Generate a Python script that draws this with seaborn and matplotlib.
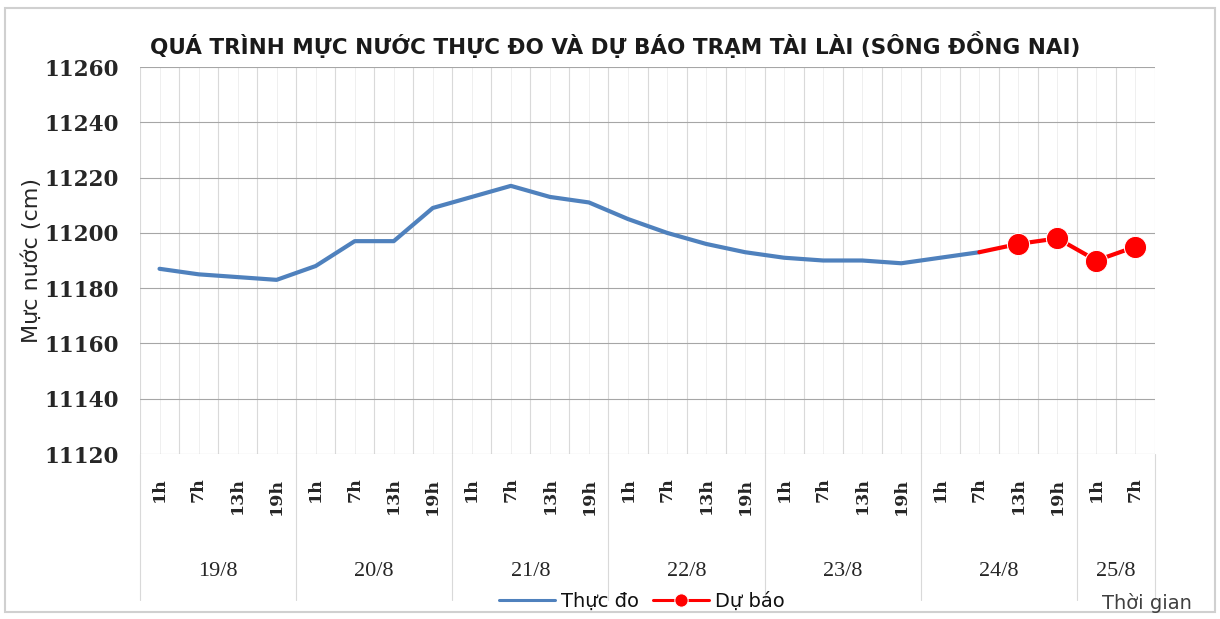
import matplotlib
matplotlib.use("Agg")
import matplotlib.pyplot as plt
import matplotlib.transforms as mtransforms
from matplotlib.patches import Rectangle
import seaborn as sns
import pandas as pd

# Data
days = ["19/8", "20/8", "21/8", "22/8", "23/8", "24/8", "25/8"]
hours_per_day = [4, 4, 4, 4, 4, 4, 2]
hour_labels = ["1h", "7h", "13h", "19h"] * 6 + ["1h", "7h"]
observed = [11187, 11185, 11184, 11183,
            11188, 11197, 11197, 11209,
            11213, 11217, 11213, 11211,
            11205, 11200, 11196, 11193,
            11191, 11190, 11190, 11189,
            11191, 11193]
forecast_start = 21
forecast = [11193, 11196, 11198, 11190, 11195]

W, H = 1220, 619


def main():
    sns.set_theme(style="white")
    plt.rcParams["font.family"] = ["DejaVu Sans"]

    fig = plt.figure(figsize=(W / 100, H / 100), dpi=100)
    ax = fig.add_axes([140 / W, 1 - 454 / H, (1155 - 140) / W, (454 - 67) / H])

    df_obs = pd.DataFrame({"x": range(len(observed)), "y": observed})
    df_fc = pd.DataFrame({"x": range(forecast_start, forecast_start + len(forecast)), "y": forecast})

    n = len(hour_labels)
    # grid
    for i in range(n + 1):
        ax.axvline(i - 0.5, color="#d9d9d9", lw=0.8, zorder=0)
    for i in range(n):
        ax.axvline(i, color="#ececec", lw=0.6, zorder=0)
    for yv in range(11120, 11261, 20):
        ax.axhline(yv, color="#a6a6a6", lw=0.8, zorder=0)

    sns.lineplot(data=df_obs, x="x", y="y", ax=ax, color="#4f81bd", lw=3, label="Thực đo", zorder=3)
    sns.lineplot(data=df_fc, x="x", y="y", ax=ax, color="#ff0000", lw=3, marker="o",
                 markersize=16, markevery=list(range(1, len(forecast))), label="Dự báo", zorder=4)

    num_font = {"family": "DejaVu Serif", "weight": "bold"}
    ax.set_xlim(-0.5, n - 0.5)
    ax.set_ylim(11120, 11260)
    ax.set_yticks(range(11120, 11261, 20))
    ax.set_yticklabels([str(v) for v in range(11120, 11261, 20)], fontdict={**num_font, "size": 15.5})
    ax.set_xticks(range(n))
    ax.set_xticklabels(hour_labels, rotation=90, fontdict={**num_font, "size": 12.5})
    ax.tick_params(axis="x", length=0, pad=17, colors="#262626")
    ax.tick_params(axis="y", length=0, pad=15, colors="#262626")
    ax.set_xlabel("")
    ax.set_ylabel("Mực nước (cm)", fontsize=16, color="#262626")
    ax.yaxis.set_label_coords((42 - 140) / 1015, 0.5)
    for s in ax.spines.values():
        s.set_visible(False)

    # day groups below the axis
    trans = mtransforms.blended_transform_factory(ax.transData, ax.transAxes)
    y_day = -(572 - 454) / (454 - 67)
    y_end = -(600 - 454) / (454 - 67)
    start = 0
    bounds = [-0.5]
    for d, k in zip(days, hours_per_day):
        ax.text(start + (k - 1) / 2, y_day, d, transform=trans, ha="center", va="center",
                fontsize=16, family="Liberation Serif", color="#262626")
        start += k
        bounds.append(start - 0.5)
    for b in bounds:
        ax.plot([b, b], [0, y_end], transform=trans, color="#d9d9d9", lw=0.8, clip_on=False)

    fig.text(615 / W, 1 - 45 / H, "QUÁ TRÌNH MỰC NƯỚC THỰC ĐO VÀ DỰ BÁO TRẠM TÀI LÀI (SÔNG ĐỒNG NAI)",
             ha="center", va="center", fontsize=15.5, weight="bold", color="#1a1a1a")

    leg = ax.legend(loc="center", bbox_to_anchor=(642 / W, 1 - 601 / H), bbox_transform=fig.transFigure,
                    ncol=2, frameon=False, fontsize=14, handlelength=2.9, columnspacing=0.7,
                    handletextpad=0.3, markerscale=0.6)
    for h in leg.get_lines():
        h.set_linewidth(2.2)
    for t in leg.get_texts():
        t.set_color("#111111")
    fig.text(1147 / W, 1 - 603 / H, "Thời gian", ha="center", va="center", fontsize=14, color="#404040")

    fig.patches.append(Rectangle((5 / W, 1 - 612 / H), 1210 / W, 604 / H, transform=fig.transFigure,
                                 fill=False, edgecolor="#d0d0d0", lw=1.5))

    fig.savefig("out.png", dpi=100)


if __name__ == "__main__":
    main()
